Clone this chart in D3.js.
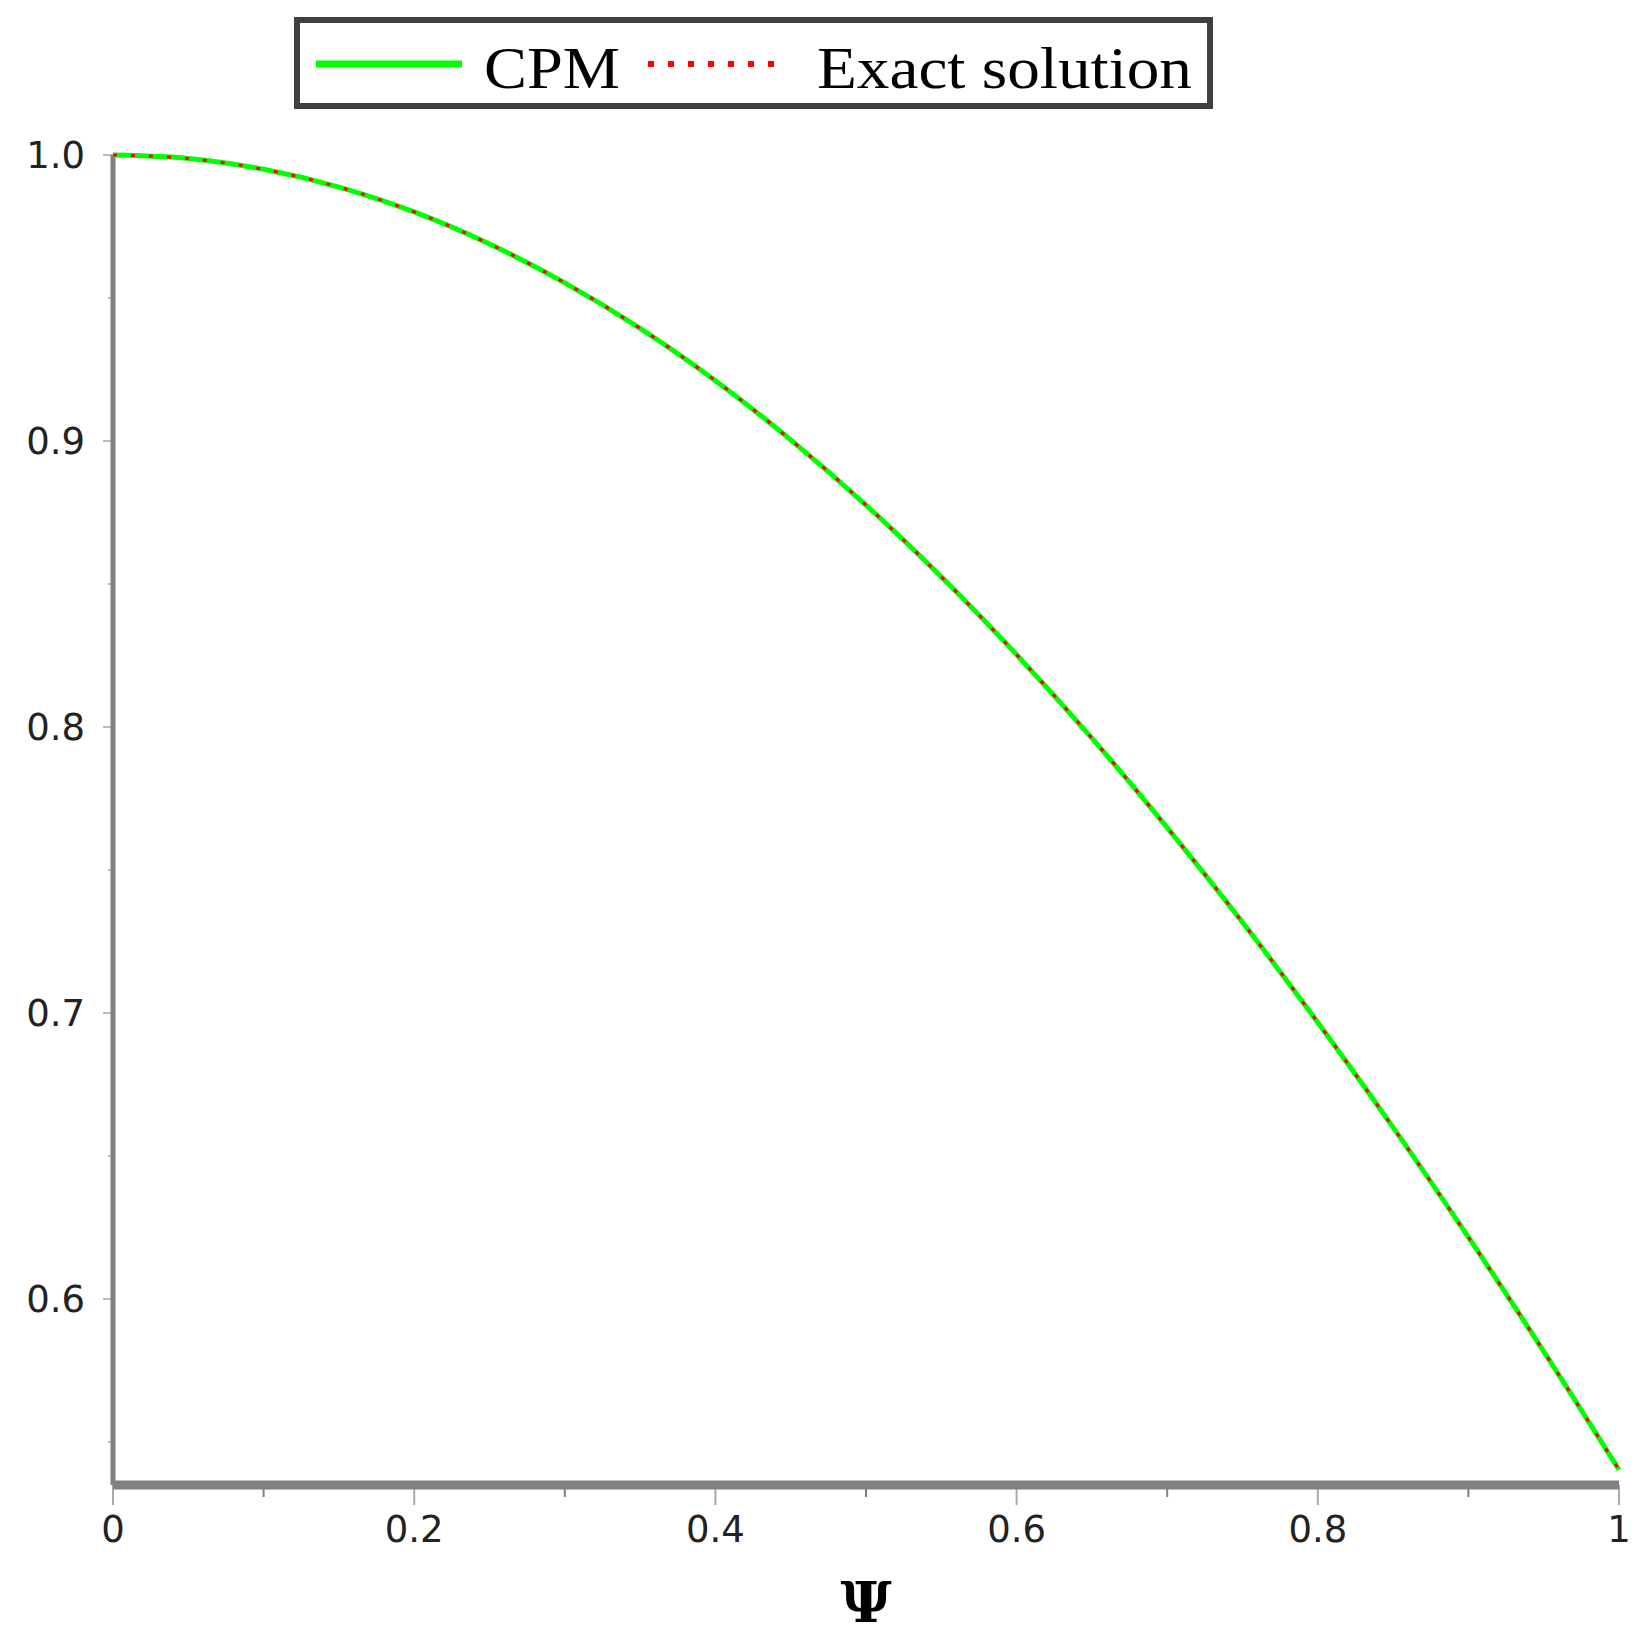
<!DOCTYPE html>
<html><head><meta charset="utf-8">
<script src="https://d3js.org/d3.v7.min.js"></script>
<style>body{margin:0;background:#fff}</style></head>
<body><svg id="c" width="1637" height="1642"></svg>
<script>
const psi = [0,0.05,0.1,0.15,0.2,0.25,0.3,0.35,0.4,0.45,0.5,0.55,0.6,0.65,0.7,0.75,0.8,0.85,0.9,0.95,1.0];
const cpm = [1.0,0.9988,0.995,0.9888,0.9801,0.9689,0.9553,0.9394,0.9211,0.9004,0.8776,0.8525,0.8253,0.7961,0.7648,0.7317,0.6967,0.6600,0.6216,0.5817,0.5403];
const exact = cpm.slice();
const xTicks = [0,0.2,0.4,0.6,0.8,1];
const yTicks = [0.6,0.7,0.8,0.9,1.0];
const svg = d3.select("#c");
const x = d3.scaleLinear().domain([0,1]).range([113,1619]);
const y = d3.scaleLinear().domain([0.9,1.0]).range([441,155]);
const yBottom = 1485;
const xMinor = [0.1,0.3,0.5,0.7,0.9];
svg.selectAll(".xm").data(xMinor).enter().append("line").attr("x1",d=>x(d)).attr("x2",d=>x(d)).attr("y1",yBottom).attr("y2",yBottom+12).attr("stroke","#808080").attr("stroke-width",2);
svg.selectAll(".xt").data(xTicks).enter().append("line").attr("x1",d=>x(d)).attr("x2",d=>x(d)).attr("y1",yBottom).attr("y2",yBottom+20).attr("stroke","#aaa").attr("stroke-width",2);
const yMinor=[0.55,0.65,0.75,0.85,0.95];
svg.selectAll(".ym").data(yMinor).enter().append("line").attr("x1",x(0)-5).attr("x2",x(0)).attr("y1",d=>y(d)).attr("y2",d=>y(d)).attr("stroke","#bbb").attr("stroke-width",2);
svg.selectAll(".yt").data(yTicks).enter().append("line").attr("x1",x(0)-10).attr("x2",x(0)).attr("y1",d=>y(d)).attr("y2",d=>y(d)).attr("stroke","#bbb").attr("stroke-width",2);
svg.append("line").attr("x1",x(0)).attr("x2",x(0)).attr("y1",y(1.0)).attr("y2",yBottom).attr("stroke","#808080").attr("stroke-width",5);
svg.append("line").attr("x1",x(0)).attr("x2",x(1)).attr("y1",yBottom).attr("y2",yBottom).attr("stroke","#808080").attr("stroke-width",9);
svg.selectAll(".xl").data(xTicks).enter().append("text").attr("x",d=>x(d)).attr("y",1542).attr("text-anchor","middle")
 .attr("font-family","DejaVu Sans").attr("font-size",37).attr("fill","#222").text(d=>d===0||d===1?String(d):d.toFixed(1));
svg.selectAll(".yl").data(yTicks).enter().append("text").attr("x",x(0)-28).attr("y",d=>y(d)+13).attr("text-anchor","end")
 .attr("font-family","DejaVu Sans").attr("font-size",37).attr("fill","#222").text(d=>d.toFixed(1));
svg.append("text").attr("x",x(0.5)).attr("y",1622).attr("text-anchor","middle").attr("font-family","DejaVu Serif").attr("font-weight","bold").attr("font-size",56).text("Ψ");
const line = d3.line().x((d,i)=>x(psi[i])).y(d=>y(d)).curve(d3.curveCatmullRom);
svg.append("path").attr("d",line(cpm)).attr("fill","none").attr("stroke","#00ff00").attr("stroke-width",5);
svg.append("path").attr("d",line(exact)).attr("fill","none").attr("stroke","#ff0000").attr("stroke-width",3).attr("stroke-dasharray","4 14");
const lg = svg.append("g");
lg.append("rect").attr("x",297).attr("y",20).attr("width",913).attr("height",86).attr("fill","#fff").attr("stroke","#404040").attr("stroke-width",6);
lg.append("line").attr("x1",316).attr("x2",462).attr("y1",64).attr("y2",64).attr("stroke","#00ff00").attr("stroke-width",7);
lg.append("text").attr("x",484).attr("y",88).attr("font-family","Liberation Serif").attr("font-size",60).attr("textLength",136).attr("lengthAdjust","spacingAndGlyphs").text("CPM");
lg.append("line").attr("x1",648).attr("x2",780).attr("y1",64).attr("y2",64).attr("stroke","#ff0000").attr("stroke-width",6).attr("stroke-dasharray","6 14");
lg.append("text").attr("x",817).attr("y",88).attr("font-family","Liberation Serif").attr("font-size",60).attr("textLength",375).attr("lengthAdjust","spacingAndGlyphs").text("Exact solution");
</script></body></html>
